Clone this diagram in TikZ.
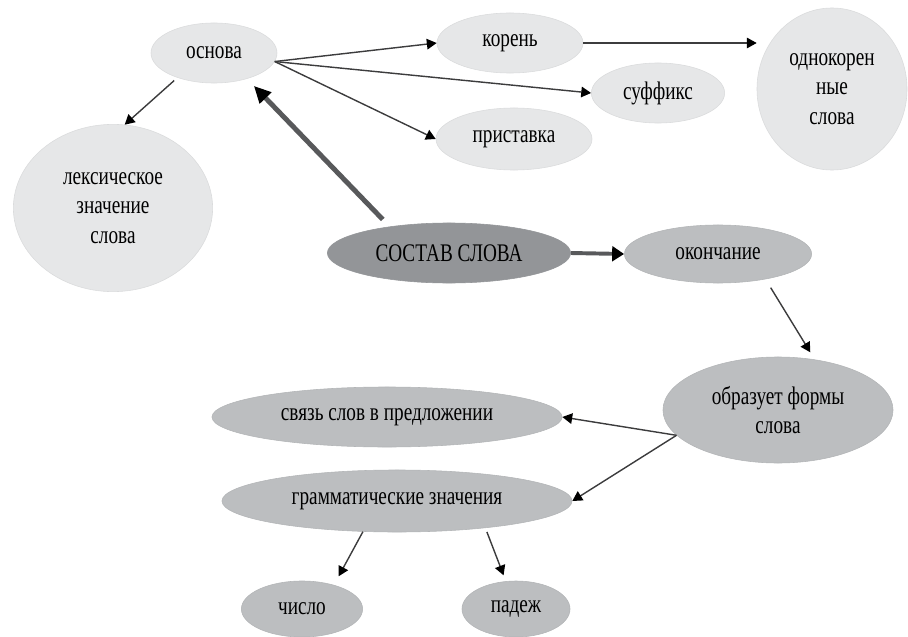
\documentclass[tikz,border=0pt]{standalone}
\usepackage{fontspec}
\setmainfont{Liberation Serif}[FakeStretch=0.76]
\usetikzlibrary{arrows.meta, shapes.geometric}
\definecolor{lightgrey}{HTML}{E6E7E8}
\definecolor{lightedge}{HTML}{DADBDC}
\definecolor{midgrey}{HTML}{BCBEC0}
\definecolor{midedge}{HTML}{B3B5B7}
\definecolor{darkgrey}{HTML}{939598}
\definecolor{linegrey}{HTML}{3C3C3D}
\definecolor{thickgrey}{HTML}{58595B}

\begin{document}
\begin{tikzpicture}[x=0.025cm, y=-0.025cm,
        lightnode/.style={ellipse, fill=lightgrey, draw=lightedge, inner sep=0pt, align=center, font=\fontsize{18}{21}\selectfont},
        midnode/.style={ellipse, fill=midgrey, draw=midedge, inner sep=0pt, align=center, font=\fontsize{18}{21}\selectfont},
        mainnode/.style={ellipse, fill=darkgrey, draw=darkgrey, inner sep=0pt, align=center, font=\fontsize{18}{21}\selectfont},
        arr/.style={draw=linegrey, line width=1pt, -{Triangle[length=7pt, width=7.5pt, color=black]}},
        midarr/.style={draw=thickgrey, line width=2.8pt, -{Triangle[length=8.5pt, width=10.5pt, color=black]}},
        bigarr/.style={draw=thickgrey, line width=3.5pt, -{Triangle[length=12pt, width=11pt, color=black]}}]

        \useasboundingbox (0,0) rectangle (908,637);

        % Upper part
        \node[lightnode, minimum width=3.15cm, minimum height=1.5cm] (osnova) at (214,53) {основа};
        \node[lightnode, minimum width=3.65cm, minimum height=1.5cm] (koren) at (510,43) {корень};
        \node[lightnode, minimum width=3.33cm, minimum height=1.5cm] (suffiks) at (658,93) {суффикс};
        \node[lightnode, minimum width=3.9cm, minimum height=1.55cm] (pristavka) at (514,139) {приставка};
        \node[lightnode, minimum width=3.75cm, minimum height=4.05cm] (odnokor) at (832,89) {однокорен\\ные\\слова};
        \node[lightnode, minimum width=4.98cm, minimum height=4.18cm] (leksich) at (113,208) {лексическое\\значение\\слова};

        % Centre
        \node[mainnode, minimum width=6.08cm, minimum height=1.5cm] (sostav) at (449,253) {СОСТАВ СЛОВА};
        \node[midnode, minimum width=4.68cm, minimum height=1.45cm] (okonch) at (718,254) {окончание};

        % Lower part
        \node[midnode, minimum width=5.75cm, minimum height=2.65cm] (obraz) at (778,410) {образует формы\\слова};
        \node[midnode, minimum width=8.75cm, minimum height=1.5cm] (svyaz) at (387,417) {связь слов в предложении};
        \node[midnode, minimum width=8.75cm, minimum height=1.55cm] (gramm) at (397,501) {грамматические значения};
        \node[midnode, minimum width=3.03cm, minimum height=1.4cm] (chislo) at (302,609) {число};
        \node[midnode, minimum width=2.7cm, minimum height=1.4cm] (padezh) at (516,609) {падеж};

        % Arrows
        \draw[arr] (osnova.-8) -- (koren.west);
        \draw[arr] (osnova.-8) -- (suffiks.west);
        \draw[arr] (osnova.-8) -- (pristavka.west);
        \draw[arr, shorten <=3pt] (osnova.-146) -- (leksich.82);
        \draw[arr] (koren.east) -- (koren.east -| odnokor.west);

        \draw[bigarr, shorten <=7pt, shorten >=7pt] (sostav.156) -- (osnova.-38);
        \draw[midarr] (sostav.east) -- (okonch.west);

        \draw[arr, shorten <=7pt, shorten >=6pt] (okonch.-28.5) -- (obraz.54);
        \draw[arr] (obraz.194) -- (svyaz.east);
        \draw[arr] (obraz.194) -- (gramm.east);
        \draw[arr, shorten >=7pt] (gramm.-138) -- (chislo.37);
        \draw[arr, shorten <=3pt, shorten >=4.5pt] (gramm.-17) -- (padezh.110);
    \end{tikzpicture}
\end{document}
